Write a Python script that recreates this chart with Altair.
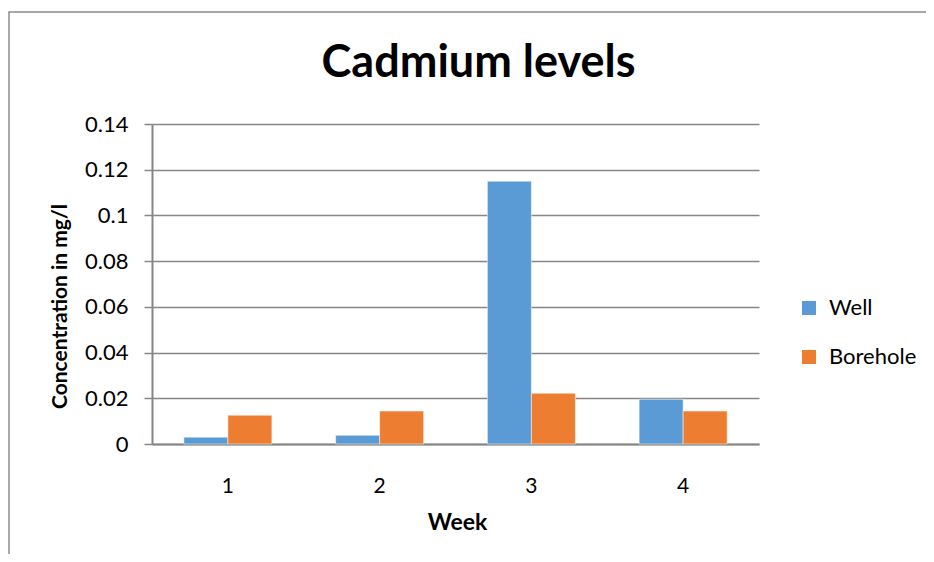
import altair as alt
import pandas as pd

weeks = ["1", "2", "3", "4"]
well = [0.003, 0.0038, 0.115, 0.0196]
borehole = [0.0126, 0.0144, 0.0222, 0.0144]
series = ["Well", "Borehole"]
colors = ["#5B9BD5", "#ED7D31"]

rows = []
for i, w in enumerate(weeks):
    rows.append({"Week": w, "Series": "Well", "Value": well[i]})
    rows.append({"Week": w, "Series": "Borehole", "Value": borehole[i]})
df = pd.DataFrame(rows)

FONT = "Lato"

bars = alt.Chart(df).mark_bar(stroke="white", strokeWidth=0.5).encode(
    x=alt.X("Week:N", sort=weeks,
            scale=alt.Scale(paddingInner=0.42, paddingOuter=0.21),
            axis=alt.Axis(title="Week", labelAngle=0, ticks=False, labelPadding=31,
                          labelFontSize=21, labelFont=FONT, labelColor="black",
                          titleFont=FONT, titleFontSize=23, titleFontWeight="bold",
                          titleColor="black", titleY=78, titleBaseline="middle",
                          titleX=305,
                          domainColor="#868686", domainWidth=2)),
    xOffset=alt.XOffset("Series:N", sort=series),
    y=alt.Y("Value:Q", scale=alt.Scale(domain=[0, 0.14]),
            axis=alt.Axis(title="Concentration in mg/l", values=[0, 0.02, 0.04, 0.06, 0.08, 0.1, 0.12, 0.14],
                          labelExpr="datum.value == 0 ? '0' : format(datum.value, '.2~f')",
                          labelFontSize=22, labelFont=FONT, labelColor="black", labelPadding=16,
                          tickSize=8, tickColor="#868686", tickWidth=1.5,
                          gridColor="#868686", gridWidth=1.5,
                          domainColor="#868686", domainWidth=2,
                          titleFont=FONT, titleFontSize=21, titleFontWeight="bold",
                          titleColor="black", titleX=-92, titleY=182,
                          titleAlign="center", titleBaseline="middle")),
    color=alt.Color("Series:N", sort=series,
                    scale=alt.Scale(domain=series, range=colors),
                    legend=alt.Legend(title=None, orient="none", legendX=646, legendY=173,
                                      symbolType="square", symbolSize=196, symbolStrokeWidth=0,
                                      labelFont=FONT, labelFontSize=22, labelColor="black",
                                      labelOffset=9, rowPadding=27)),
)

border = alt.Chart(pd.DataFrame({"a": [0]})).mark_rect(
    fill=None, stroke="#8c8c8c", strokeWidth=1.5
).encode(x=alt.value(-143), x2=alt.value(800), y=alt.value(-112), y2=alt.value(460))

chart = alt.layer(border, bars).properties(
    width=607, height=320,
    padding={"left": 144, "top": 116, "right": 167, "bottom": 110},
    autosize=alt.AutoSizeParams(type="none"),
    title=alt.TitleParams("Cadmium levels", font=FONT, fontSize=45, fontWeight="bold",
                          color="black", anchor="middle", offset=0, dy=75, dx=23),
).configure_view(stroke=None)

chart.save("out.html", embed_options={"renderer": "svg", "actions": False})
